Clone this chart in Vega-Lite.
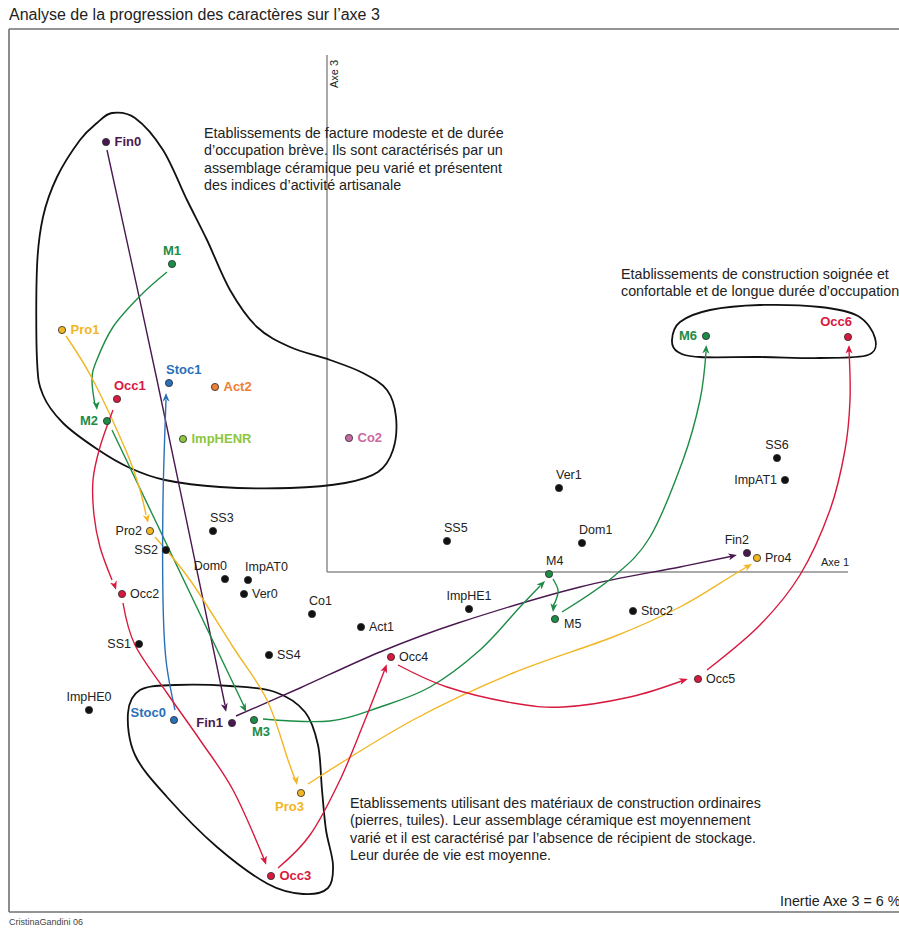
{
  "$schema": "https://vega.github.io/schema/vega-lite/v6.json",
  "width": 890,
  "height": 883,
  "autosize": {"type": "none"},
  "padding": {"left": 9, "top": 29, "right": 0, "bottom": 16},
  "background": "white",
  "config": {"font": "Liberation Sans", "view": {"stroke": null}},
  "title": {"text": "Analyse de la progression des caractères sur l’axe 3", "anchor": "start", "frame": "group", "fontSize": 16, "fontWeight": "normal", "color": "#222222", "offset": 5, "font": "Liberation Sans"},
  "datasets": {
    "pts": [
      {"name": "Fin0", "series": "Fin", "x": -2.21, "y": 4.30, "pos": "r", "emph": true},
      {"name": "M1", "series": "M", "x": -1.55, "y": 3.08, "pos": "a", "emph": true},
      {"name": "Pro1", "series": "Pro", "x": -2.65, "y": 2.42, "pos": "r", "emph": true},
      {"name": "Stoc1", "series": "Stoc", "x": -1.58, "y": 1.89, "pos": "ar", "emph": true},
      {"name": "Act2", "series": "Act", "x": -1.12, "y": 1.85, "pos": "r", "emph": true},
      {"name": "Occ1", "series": "Occ", "x": -2.10, "y": 1.73, "pos": "ar", "emph": true},
      {"name": "M2", "series": "M", "x": -2.20, "y": 1.51, "pos": "l", "emph": true},
      {"name": "ImpHENR", "series": "ImpHENR", "x": -1.44, "y": 1.33, "pos": "r", "emph": true},
      {"name": "Co2", "series": "Co", "x": 0.22, "y": 1.34, "pos": "r", "emph": true},
      {"name": "Pro2", "series": "Pro", "x": -1.77, "y": 0.41, "pos": "l", "emph": false},
      {"name": "SS3", "series": "base", "x": -1.14, "y": 0.41, "pos": "ar", "emph": false},
      {"name": "SS2", "series": "base", "x": -1.61, "y": 0.22, "pos": "l", "emph": false},
      {"name": "Dom0", "series": "base", "x": -1.02, "y": -0.07, "pos": "al", "emph": false},
      {"name": "ImpAT0", "series": "base", "x": -0.79, "y": -0.08, "pos": "ar", "emph": false},
      {"name": "Ver0", "series": "base", "x": -0.83, "y": -0.22, "pos": "r", "emph": false},
      {"name": "Occ2", "series": "Occ", "x": -2.05, "y": -0.22, "pos": "r", "emph": false},
      {"name": "Co1", "series": "base", "x": -0.15, "y": -0.42, "pos": "ar", "emph": false},
      {"name": "Act1", "series": "base", "x": 0.34, "y": -0.55, "pos": "r", "emph": false},
      {"name": "SS1", "series": "base", "x": -1.88, "y": -0.72, "pos": "l", "emph": false},
      {"name": "SS4", "series": "base", "x": -0.58, "y": -0.83, "pos": "r", "emph": false},
      {"name": "Occ4", "series": "Occ", "x": 0.64, "y": -0.85, "pos": "r", "emph": false},
      {"name": "ImpHE0", "series": "base", "x": -2.38, "y": -1.38, "pos": "a", "emph": false},
      {"name": "Stoc0", "series": "Stoc", "x": -1.53, "y": -1.48, "pos": "lu", "emph": true},
      {"name": "Fin1", "series": "Fin", "x": -0.95, "y": -1.51, "pos": "l", "emph": true},
      {"name": "M3", "series": "M", "x": -0.73, "y": -1.48, "pos": "br", "emph": true},
      {"name": "Pro3", "series": "Pro", "x": -0.26, "y": -2.21, "pos": "bl", "emph": true},
      {"name": "Occ3", "series": "Occ", "x": -0.56, "y": -3.04, "pos": "r", "emph": true},
      {"name": "M6", "series": "M", "x": 3.79, "y": 2.36, "pos": "l", "emph": true},
      {"name": "Occ6", "series": "Occ", "x": 5.21, "y": 2.35, "pos": "al", "emph": true},
      {"name": "SS6", "series": "base", "x": 4.50, "y": 1.14, "pos": "a", "emph": false},
      {"name": "ImpAT1", "series": "base", "x": 4.58, "y": 0.92, "pos": "l", "emph": false},
      {"name": "Ver1", "series": "base", "x": 2.32, "y": 0.84, "pos": "ar", "emph": false},
      {"name": "Dom1", "series": "base", "x": 2.55, "y": 0.29, "pos": "ar", "emph": false},
      {"name": "SS5", "series": "base", "x": 1.20, "y": 0.31, "pos": "ar", "emph": false},
      {"name": "Fin2", "series": "Fin", "x": 4.20, "y": 0.19, "pos": "al", "emph": false},
      {"name": "Pro4", "series": "Pro", "x": 4.30, "y": 0.14, "pos": "r", "emph": false},
      {"name": "M4", "series": "M", "x": 2.22, "y": -0.02, "pos": "ar", "emph": false},
      {"name": "M5", "series": "M", "x": 2.28, "y": -0.47, "pos": "rb", "emph": false},
      {"name": "Stoc2", "series": "base", "x": 3.06, "y": -0.39, "pos": "r", "emph": false},
      {"name": "ImpHE1", "series": "base", "x": 1.42, "y": -0.37, "pos": "a", "emph": false},
      {"name": "Occ5", "series": "Occ", "x": 3.71, "y": -1.07, "pos": "r", "emph": false}
    ],
    "paths": [
      {"seg": "F01", "series": "Fin", "ord": 1, "x": -2.20, "y": 4.22},
      {"seg": "F01", "series": "Fin", "ord": 2, "x": -1.70, "y": 1.92},
      {"seg": "F01", "series": "Fin", "ord": 3, "x": -1.02, "y": -1.33},
      {"seg": "F12", "series": "Fin", "ord": 1, "x": -0.91, "y": -1.44},
      {"seg": "F12", "series": "Fin", "ord": 2, "x": -0.27, "y": -1.16},
      {"seg": "F12", "series": "Fin", "ord": 3, "x": 0.53, "y": -0.80},
      {"seg": "F12", "series": "Fin", "ord": 4, "x": 1.31, "y": -0.51},
      {"seg": "F12", "series": "Fin", "ord": 5, "x": 2.53, "y": -0.15},
      {"seg": "F12", "series": "Fin", "ord": 6, "x": 3.53, "y": 0.05},
      {"seg": "F12", "series": "Fin", "ord": 7, "x": 4.06, "y": 0.16},
      {"seg": "M12", "series": "M", "ord": 1, "x": -1.60, "y": 3.00},
      {"seg": "M12", "series": "M", "ord": 2, "x": -1.87, "y": 2.76},
      {"seg": "M12", "series": "M", "ord": 3, "x": -2.14, "y": 2.45},
      {"seg": "M12", "series": "M", "ord": 4, "x": -2.31, "y": 2.10},
      {"seg": "M12", "series": "M", "ord": 5, "x": -2.35, "y": 1.92},
      {"seg": "M12", "series": "M", "ord": 6, "x": -2.32, "y": 1.67},
      {"seg": "M23", "series": "M", "ord": 1, "x": -2.15, "y": 1.42},
      {"seg": "M23", "series": "M", "ord": 2, "x": -0.83, "y": -1.34},
      {"seg": "M34", "series": "M", "ord": 1, "x": -0.64, "y": -1.47},
      {"seg": "M34", "series": "M", "ord": 2, "x": 0.03, "y": -1.49},
      {"seg": "M34", "series": "M", "ord": 3, "x": 0.53, "y": -1.35},
      {"seg": "M34", "series": "M", "ord": 4, "x": 1.03, "y": -1.15},
      {"seg": "M34", "series": "M", "ord": 5, "x": 1.53, "y": -0.78},
      {"seg": "M34", "series": "M", "ord": 6, "x": 1.93, "y": -0.35},
      {"seg": "M34", "series": "M", "ord": 7, "x": 2.13, "y": -0.14},
      {"seg": "M45", "series": "M", "ord": 1, "x": 2.26, "y": -0.07},
      {"seg": "M45", "series": "M", "ord": 2, "x": 2.31, "y": -0.18},
      {"seg": "M45", "series": "M", "ord": 3, "x": 2.29, "y": -0.28},
      {"seg": "M45", "series": "M", "ord": 4, "x": 2.26, "y": -0.34},
      {"seg": "M56", "series": "M", "ord": 1, "x": 2.35, "y": -0.40},
      {"seg": "M56", "series": "M", "ord": 2, "x": 2.86, "y": -0.05},
      {"seg": "M56", "series": "M", "ord": 3, "x": 3.23, "y": 0.35},
      {"seg": "M56", "series": "M", "ord": 4, "x": 3.56, "y": 1.12},
      {"seg": "M56", "series": "M", "ord": 5, "x": 3.73, "y": 1.72},
      {"seg": "M56", "series": "M", "ord": 6, "x": 3.79, "y": 2.20},
      {"seg": "P12", "series": "Pro", "ord": 1, "x": -2.61, "y": 2.36},
      {"seg": "P12", "series": "Pro", "ord": 2, "x": -2.34, "y": 1.92},
      {"seg": "P12", "series": "Pro", "ord": 3, "x": -2.00, "y": 1.19},
      {"seg": "P12", "series": "Pro", "ord": 4, "x": -1.87, "y": 0.82},
      {"seg": "P12", "series": "Pro", "ord": 5, "x": -1.81, "y": 0.57},
      {"seg": "P23", "series": "Pro", "ord": 1, "x": -1.72, "y": 0.35},
      {"seg": "P23", "series": "Pro", "ord": 2, "x": -1.37, "y": -0.08},
      {"seg": "P23", "series": "Pro", "ord": 3, "x": -0.94, "y": -0.75},
      {"seg": "P23", "series": "Pro", "ord": 4, "x": -0.60, "y": -1.28},
      {"seg": "P23", "series": "Pro", "ord": 5, "x": -0.39, "y": -1.88},
      {"seg": "P23", "series": "Pro", "ord": 6, "x": -0.32, "y": -2.07},
      {"seg": "P34", "series": "Pro", "ord": 1, "x": -0.19, "y": -2.12},
      {"seg": "P34", "series": "Pro", "ord": 2, "x": 0.86, "y": -1.48},
      {"seg": "P34", "series": "Pro", "ord": 3, "x": 1.86, "y": -1.01},
      {"seg": "P34", "series": "Pro", "ord": 4, "x": 2.86, "y": -0.65},
      {"seg": "P34", "series": "Pro", "ord": 5, "x": 3.53, "y": -0.35},
      {"seg": "P34", "series": "Pro", "ord": 6, "x": 4.03, "y": -0.05},
      {"seg": "P34", "series": "Pro", "ord": 7, "x": 4.21, "y": 0.06},
      {"seg": "S01", "series": "Stoc", "ord": 1, "x": -1.52, "y": -1.38},
      {"seg": "S01", "series": "Stoc", "ord": 2, "x": -1.61, "y": -0.88},
      {"seg": "S01", "series": "Stoc", "ord": 3, "x": -1.64, "y": -0.28},
      {"seg": "S01", "series": "Stoc", "ord": 4, "x": -1.64, "y": 0.72},
      {"seg": "S01", "series": "Stoc", "ord": 5, "x": -1.61, "y": 1.72},
      {"seg": "O12", "series": "Occ", "ord": 1, "x": -2.14, "y": 1.62},
      {"seg": "O12", "series": "Occ", "ord": 2, "x": -2.27, "y": 1.25},
      {"seg": "O12", "series": "Occ", "ord": 3, "x": -2.34, "y": 0.92},
      {"seg": "O12", "series": "Occ", "ord": 4, "x": -2.33, "y": 0.57},
      {"seg": "O12", "series": "Occ", "ord": 5, "x": -2.27, "y": 0.25},
      {"seg": "O12", "series": "Occ", "ord": 6, "x": -2.15, "y": -0.08},
      {"seg": "O23", "series": "Occ", "ord": 1, "x": -2.04, "y": -0.31},
      {"seg": "O23", "series": "Occ", "ord": 2, "x": -1.92, "y": -0.73},
      {"seg": "O23", "series": "Occ", "ord": 3, "x": -1.60, "y": -1.21},
      {"seg": "O23", "series": "Occ", "ord": 4, "x": -1.27, "y": -1.68},
      {"seg": "O23", "series": "Occ", "ord": 5, "x": -0.94, "y": -2.18},
      {"seg": "O23", "series": "Occ", "ord": 6, "x": -0.63, "y": -2.87},
      {"seg": "O34", "series": "Occ", "ord": 1, "x": -0.49, "y": -2.96},
      {"seg": "O34", "series": "Occ", "ord": 2, "x": -0.17, "y": -2.63},
      {"seg": "O34", "series": "Occ", "ord": 3, "x": 0.13, "y": -2.08},
      {"seg": "O34", "series": "Occ", "ord": 4, "x": 0.38, "y": -1.48},
      {"seg": "O34", "series": "Occ", "ord": 5, "x": 0.58, "y": -0.97},
      {"seg": "O45", "series": "Occ", "ord": 1, "x": 0.71, "y": -0.93},
      {"seg": "O45", "series": "Occ", "ord": 2, "x": 1.20, "y": -1.15},
      {"seg": "O45", "series": "Occ", "ord": 3, "x": 1.86, "y": -1.31},
      {"seg": "O45", "series": "Occ", "ord": 4, "x": 2.36, "y": -1.35},
      {"seg": "O45", "series": "Occ", "ord": 5, "x": 3.03, "y": -1.25},
      {"seg": "O45", "series": "Occ", "ord": 6, "x": 3.56, "y": -1.085},
      {"seg": "O56", "series": "Occ", "ord": 1, "x": 3.80, "y": -0.98},
      {"seg": "O56", "series": "Occ", "ord": 2, "x": 4.33, "y": -0.53},
      {"seg": "O56", "series": "Occ", "ord": 3, "x": 4.73, "y": -0.03},
      {"seg": "O56", "series": "Occ", "ord": 4, "x": 5.03, "y": 0.62},
      {"seg": "O56", "series": "Occ", "ord": 5, "x": 5.18, "y": 1.22},
      {"seg": "O56", "series": "Occ", "ord": 6, "x": 5.23, "y": 1.72},
      {"seg": "O56", "series": "Occ", "ord": 7, "x": 5.22, "y": 2.22}
    ],
    "heads": [
      {"seg": "F01", "series": "Fin", "x": -1.02, "y": -1.35, "angle": 167},
      {"seg": "F12", "series": "Fin", "x": 4.05, "y": 0.16, "angle": 77},
      {"seg": "M12", "series": "M", "x": -2.305, "y": 1.67, "angle": 175},
      {"seg": "M23", "series": "M", "x": -0.83, "y": -1.355, "angle": 154},
      {"seg": "M34", "series": "M", "x": 2.145, "y": -0.125, "angle": 45},
      {"seg": "M45", "series": "M", "x": 2.265, "y": -0.35, "angle": 186},
      {"seg": "M56", "series": "M", "x": 3.79, "y": 2.22, "angle": 3},
      {"seg": "P12", "series": "Pro", "x": -1.80, "y": 0.54, "angle": 167},
      {"seg": "P23", "series": "Pro", "x": -0.31, "y": -2.08, "angle": 168},
      {"seg": "P34", "series": "Pro", "x": 4.207, "y": 0.055, "angle": 59},
      {"seg": "S01", "series": "Stoc", "x": -1.61, "y": 1.74, "angle": 0},
      {"seg": "O12", "series": "Occ", "x": -2.125, "y": -0.13, "angle": 162},
      {"seg": "O23", "series": "Occ", "x": -0.625, "y": -2.88, "angle": 162},
      {"seg": "O34", "series": "Occ", "x": 0.58, "y": -0.97, "angle": 21},
      {"seg": "O45", "series": "Occ", "x": 3.56, "y": -1.085, "angle": 73},
      {"seg": "O56", "series": "Occ", "x": 5.22, "y": 2.22, "angle": 0}
    ],
    "hulls": [
      {"id": "h1", "ord": 1, "x": -2.15, "y": 4.59},
      {"id": "h1", "ord": 2, "x": -1.92, "y": 4.54},
      {"id": "h1", "ord": 3, "x": -1.64, "y": 4.22},
      {"id": "h1", "ord": 4, "x": -1.40, "y": 3.72},
      {"id": "h1", "ord": 5, "x": -1.20, "y": 3.32},
      {"id": "h1", "ord": 6, "x": -0.97, "y": 2.82},
      {"id": "h1", "ord": 7, "x": -0.70, "y": 2.45},
      {"id": "h1", "ord": 8, "x": -0.37, "y": 2.25},
      {"id": "h1", "ord": 9, "x": 0.03, "y": 2.12},
      {"id": "h1", "ord": 10, "x": 0.36, "y": 1.99},
      {"id": "h1", "ord": 11, "x": 0.60, "y": 1.82},
      {"id": "h1", "ord": 12, "x": 0.69, "y": 1.55},
      {"id": "h1", "ord": 13, "x": 0.66, "y": 1.22},
      {"id": "h1", "ord": 14, "x": 0.51, "y": 1.00},
      {"id": "h1", "ord": 15, "x": 0.18, "y": 0.89},
      {"id": "h1", "ord": 16, "x": -0.37, "y": 0.84},
      {"id": "h1", "ord": 17, "x": -1.07, "y": 0.85},
      {"id": "h1", "ord": 18, "x": -1.62, "y": 0.92},
      {"id": "h1", "ord": 19, "x": -1.97, "y": 1.04},
      {"id": "h1", "ord": 20, "x": -2.30, "y": 1.23},
      {"id": "h1", "ord": 21, "x": -2.64, "y": 1.49},
      {"id": "h1", "ord": 22, "x": -2.84, "y": 1.77},
      {"id": "h1", "ord": 23, "x": -2.90, "y": 2.12},
      {"id": "h1", "ord": 24, "x": -2.90, "y": 3.05},
      {"id": "h1", "ord": 25, "x": -2.84, "y": 3.55},
      {"id": "h1", "ord": 26, "x": -2.70, "y": 3.95},
      {"id": "h1", "ord": 27, "x": -2.47, "y": 4.32},
      {"id": "h1", "ord": 28, "x": -2.30, "y": 4.49},
      {"id": "h2", "ord": 1, "x": 3.45, "y": 2.32},
      {"id": "h2", "ord": 2, "x": 3.53, "y": 2.50},
      {"id": "h2", "ord": 3, "x": 3.83, "y": 2.62},
      {"id": "h2", "ord": 4, "x": 4.33, "y": 2.67},
      {"id": "h2", "ord": 5, "x": 4.93, "y": 2.65},
      {"id": "h2", "ord": 6, "x": 5.31, "y": 2.56},
      {"id": "h2", "ord": 7, "x": 5.48, "y": 2.34},
      {"id": "h2", "ord": 8, "x": 5.41, "y": 2.17},
      {"id": "h2", "ord": 9, "x": 4.93, "y": 2.14},
      {"id": "h2", "ord": 10, "x": 4.33, "y": 2.15},
      {"id": "h2", "ord": 11, "x": 3.73, "y": 2.15},
      {"id": "h2", "ord": 12, "x": 3.51, "y": 2.20},
      {"id": "h3", "ord": 1, "x": -1.99, "y": -1.41},
      {"id": "h3", "ord": 2, "x": -1.87, "y": -1.18},
      {"id": "h3", "ord": 3, "x": -1.52, "y": -1.13},
      {"id": "h3", "ord": 4, "x": -0.97, "y": -1.14},
      {"id": "h3", "ord": 5, "x": -0.52, "y": -1.20},
      {"id": "h3", "ord": 6, "x": -0.22, "y": -1.40},
      {"id": "h3", "ord": 7, "x": -0.09, "y": -1.73},
      {"id": "h3", "ord": 8, "x": -0.05, "y": -2.18},
      {"id": "h3", "ord": 9, "x": -0.01, "y": -2.58},
      {"id": "h3", "ord": 10, "x": 0.06, "y": -2.93},
      {"id": "h3", "ord": 11, "x": 0.01, "y": -3.16},
      {"id": "h3", "ord": 12, "x": -0.24, "y": -3.22},
      {"id": "h3", "ord": 13, "x": -0.59, "y": -3.12},
      {"id": "h3", "ord": 14, "x": -1.10, "y": -2.75},
      {"id": "h3", "ord": 15, "x": -1.60, "y": -2.25},
      {"id": "h3", "ord": 16, "x": -1.92, "y": -1.83}
    ]
  },
  "layer": [
    {
      "data": {"values": [{"y": 5.43}, {"y": -3.40}]},
      "mark": {"type": "rule", "color": "#707070", "strokeWidth": 1.6},
      "encoding": {"y": {"field": "y", "type": "quantitative", "scale": {"domain": [-3.40, 5.43], "nice": false, "zero": false}, "axis": null}}
    },
    {
      "data": {"values": [{"x": -3.18}]},
      "mark": {"type": "rule", "color": "#707070", "strokeWidth": 1.6},
      "encoding": {"x": {"field": "x", "type": "quantitative", "scale": {"domain": [-3.18, 5.72], "nice": false, "zero": false}, "axis": null}}
    },
    {
      "data": {"values": [{"x": 0, "y": 0, "x2": 0, "y2": 5.17}, {"x": 0, "y": 0, "x2": 5.21, "y2": 0}]},
      "mark": {"type": "rule", "color": "#8c8c8c", "strokeWidth": 1.5},
      "encoding": {
        "x": {"field": "x", "type": "quantitative", "scale": {"domain": [-3.18, 5.72], "nice": false, "zero": false}, "axis": null},
        "y": {"field": "y", "type": "quantitative", "scale": {"domain": [-3.40, 5.43], "nice": false, "zero": false}, "axis": null},
        "x2": {"field": "x2"},
        "y2": {"field": "y2"}
      }
    },
    {
      "data": {"name": "hulls"},
      "mark": {"type": "line", "interpolate": "cardinal-closed", "color": "#111111", "strokeWidth": 1.8},
      "encoding": {
        "x": {"field": "x", "type": "quantitative", "scale": {"domain": [-3.18, 5.72], "nice": false, "zero": false}, "axis": null},
        "y": {"field": "y", "type": "quantitative", "scale": {"domain": [-3.40, 5.43], "nice": false, "zero": false}, "axis": null},
        "detail": {"field": "id", "type": "nominal"},
        "order": {"field": "ord", "type": "quantitative"}
      }
    },
    {
      "data": {"name": "paths"},
      "mark": {"type": "line", "interpolate": "cardinal", "strokeWidth": 1.4},
      "encoding": {
        "x": {"field": "x", "type": "quantitative", "scale": {"domain": [-3.18, 5.72], "nice": false, "zero": false}, "axis": null},
        "y": {"field": "y", "type": "quantitative", "scale": {"domain": [-3.40, 5.43], "nice": false, "zero": false}, "axis": null},
        "detail": {"field": "seg", "type": "nominal"},
        "order": {"field": "ord", "type": "quantitative"},
        "color": {"field": "series", "type": "nominal", "legend": null, "scale": {"domain": ["Fin", "M", "Pro", "Stoc", "Occ", "Act", "ImpHENR", "Co", "base"], "range": ["#4a1850", "#1d8c45", "#f2b623", "#2a70b8", "#d8193d", "#ee7d35", "#8cc63f", "#c96aa3", "#111111"]}}
      }
    },
    {
      "data": {"name": "heads"},
      "mark": {"type": "point", "filled": true, "opacity": 1, "size": 100, "shape": "M0,-1L0.7,0.7L0,0.25L-0.7,0.7Z"},
      "encoding": {
        "x": {"field": "x", "type": "quantitative", "scale": {"domain": [-3.18, 5.72], "nice": false, "zero": false}, "axis": null},
        "y": {"field": "y", "type": "quantitative", "scale": {"domain": [-3.40, 5.43], "nice": false, "zero": false}, "axis": null},
        "angle": {"field": "angle", "type": "quantitative", "scale": null},
        "color": {"field": "series", "type": "nominal", "legend": null}
      }
    },
    {
      "data": {"name": "pts"},
      "mark": {"type": "circle", "size": 52, "opacity": 1, "stroke": "#2a2a2a", "strokeWidth": 0.8},
      "encoding": {
        "x": {"field": "x", "type": "quantitative", "scale": {"domain": [-3.18, 5.72], "nice": false, "zero": false}, "axis": null},
        "y": {"field": "y", "type": "quantitative", "scale": {"domain": [-3.40, 5.43], "nice": false, "zero": false}, "axis": null},
        "color": {"field": "series", "type": "nominal", "legend": null}
      }
    },
    {"data": {"name": "pts"}, "transform": [{"filter": "datum.emph && datum.pos == 'r'"}], "mark": {"type": "text", "align": "left", "baseline": "middle", "dx": 8.5, "dy": 0, "fontSize": 13, "fontWeight": "bold"}, "encoding": {"x": {"field": "x", "type": "quantitative"}, "y": {"field": "y", "type": "quantitative"}, "text": {"field": "name"}, "color": {"field": "series", "type": "nominal", "legend": null}}},
    {"data": {"name": "pts"}, "transform": [{"filter": "datum.emph && datum.pos == 'a'"}], "mark": {"type": "text", "align": "center", "baseline": "middle", "dx": 0, "dy": -13, "fontSize": 13, "fontWeight": "bold"}, "encoding": {"x": {"field": "x", "type": "quantitative"}, "y": {"field": "y", "type": "quantitative"}, "text": {"field": "name"}, "color": {"field": "series", "type": "nominal", "legend": null}}},
    {"data": {"name": "pts"}, "transform": [{"filter": "datum.emph && datum.pos == 'ar'"}], "mark": {"type": "text", "align": "left", "baseline": "middle", "dx": -3, "dy": -13, "fontSize": 13, "fontWeight": "bold"}, "encoding": {"x": {"field": "x", "type": "quantitative"}, "y": {"field": "y", "type": "quantitative"}, "text": {"field": "name"}, "color": {"field": "series", "type": "nominal", "legend": null}}},
    {"data": {"name": "pts"}, "transform": [{"filter": "datum.emph && datum.pos == 'l'"}], "mark": {"type": "text", "align": "right", "baseline": "middle", "dx": -9, "dy": 0, "fontSize": 13, "fontWeight": "bold"}, "encoding": {"x": {"field": "x", "type": "quantitative"}, "y": {"field": "y", "type": "quantitative"}, "text": {"field": "name"}, "color": {"field": "series", "type": "nominal", "legend": null}}},
    {"data": {"name": "pts"}, "transform": [{"filter": "datum.emph && datum.pos == 'lu'"}], "mark": {"type": "text", "align": "right", "baseline": "middle", "dx": -8, "dy": -7, "fontSize": 13, "fontWeight": "bold"}, "encoding": {"x": {"field": "x", "type": "quantitative"}, "y": {"field": "y", "type": "quantitative"}, "text": {"field": "name"}, "color": {"field": "series", "type": "nominal", "legend": null}}},
    {"data": {"name": "pts"}, "transform": [{"filter": "datum.emph && datum.pos == 'br'"}], "mark": {"type": "text", "align": "left", "baseline": "middle", "dx": -2, "dy": 12, "fontSize": 13, "fontWeight": "bold"}, "encoding": {"x": {"field": "x", "type": "quantitative"}, "y": {"field": "y", "type": "quantitative"}, "text": {"field": "name"}, "color": {"field": "series", "type": "nominal", "legend": null}}},
    {"data": {"name": "pts"}, "transform": [{"filter": "datum.emph && datum.pos == 'bl'"}], "mark": {"type": "text", "align": "right", "baseline": "middle", "dx": 3, "dy": 14, "fontSize": 13, "fontWeight": "bold"}, "encoding": {"x": {"field": "x", "type": "quantitative"}, "y": {"field": "y", "type": "quantitative"}, "text": {"field": "name"}, "color": {"field": "series", "type": "nominal", "legend": null}}},
    {"data": {"name": "pts"}, "transform": [{"filter": "datum.emph && datum.pos == 'al'"}], "mark": {"type": "text", "align": "right", "baseline": "middle", "dx": 4, "dy": -15, "fontSize": 13, "fontWeight": "bold"}, "encoding": {"x": {"field": "x", "type": "quantitative"}, "y": {"field": "y", "type": "quantitative"}, "text": {"field": "name"}, "color": {"field": "series", "type": "nominal", "legend": null}}},
    {"data": {"name": "pts"}, "transform": [{"filter": "!datum.emph && datum.pos == 'r'"}], "mark": {"type": "text", "align": "left", "baseline": "middle", "dx": 8, "dy": 0, "fontSize": 12.5, "color": "#222222"}, "encoding": {"x": {"field": "x", "type": "quantitative"}, "y": {"field": "y", "type": "quantitative"}, "text": {"field": "name"}}},
    {"data": {"name": "pts"}, "transform": [{"filter": "!datum.emph && datum.pos == 'l'"}], "mark": {"type": "text", "align": "right", "baseline": "middle", "dx": -8, "dy": 0, "fontSize": 12.5, "color": "#222222"}, "encoding": {"x": {"field": "x", "type": "quantitative"}, "y": {"field": "y", "type": "quantitative"}, "text": {"field": "name"}}},
    {"data": {"name": "pts"}, "transform": [{"filter": "!datum.emph && datum.pos == 'a'"}], "mark": {"type": "text", "align": "center", "baseline": "middle", "dx": 0, "dy": -13, "fontSize": 12.5, "color": "#222222"}, "encoding": {"x": {"field": "x", "type": "quantitative"}, "y": {"field": "y", "type": "quantitative"}, "text": {"field": "name"}}},
    {"data": {"name": "pts"}, "transform": [{"filter": "!datum.emph && datum.pos == 'ar'"}], "mark": {"type": "text", "align": "left", "baseline": "middle", "dx": -3, "dy": -13, "fontSize": 12.5, "color": "#222222"}, "encoding": {"x": {"field": "x", "type": "quantitative"}, "y": {"field": "y", "type": "quantitative"}, "text": {"field": "name"}}},
    {"data": {"name": "pts"}, "transform": [{"filter": "!datum.emph && datum.pos == 'al'"}], "mark": {"type": "text", "align": "right", "baseline": "middle", "dx": 2, "dy": -13, "fontSize": 12.5, "color": "#222222"}, "encoding": {"x": {"field": "x", "type": "quantitative"}, "y": {"field": "y", "type": "quantitative"}, "text": {"field": "name"}}},
    {"data": {"name": "pts"}, "transform": [{"filter": "!datum.emph && datum.pos == 'rb'"}], "mark": {"type": "text", "align": "left", "baseline": "middle", "dx": 9, "dy": 5, "fontSize": 12.5, "color": "#222222"}, "encoding": {"x": {"field": "x", "type": "quantitative"}, "y": {"field": "y", "type": "quantitative"}, "text": {"field": "name"}}},
    {
      "data": {"values": [
        {"t": "Etablissements de facture modeste et de durée\nd’occupation brève. Ils sont caractérisés par un\nassemblage céramique peu varié et présentent\ndes indices d’activité artisanale", "x": -1.23, "y": 4.345},
        {"t": "Etablissements de construction soignée et\nconfortable et de longue durée d’occupation", "x": 2.94, "y": 2.935},
        {"t": "Etablissements utilisant des matériaux de construction ordinaires\n(pierres, tuiles). Leur assemblage céramique est moyennement\nvarié et il est caractérisé par l’absence de récipient de stockage.\nLeur durée de vie est moyenne.", "x": 0.23, "y": -2.355},
        {"t": "Inertie Axe 3 = 6 %", "x": 4.53, "y": -3.335}
      ]},
      "mark": {"type": "text", "align": "left", "baseline": "alphabetic", "fontSize": 14.3, "lineHeight": 17.5, "lineBreak": "\n", "color": "#222222"},
      "encoding": {"x": {"field": "x", "type": "quantitative"}, "y": {"field": "y", "type": "quantitative"}, "text": {"field": "t"}}
    },
    {
      "data": {"values": [{"t": "CristinaGandini 06", "x": -3.18, "y": -3.53}]},
      "mark": {"type": "text", "align": "left", "baseline": "alphabetic", "fontSize": 9, "color": "#444444"},
      "encoding": {"x": {"field": "x", "type": "quantitative"}, "y": {"field": "y", "type": "quantitative"}, "text": {"field": "t"}}
    },
    {
      "data": {"values": [{"t": "Axe 1", "x": 5.08, "y": 0.09}]},
      "mark": {"type": "text", "align": "center", "baseline": "middle", "fontSize": 11, "color": "#222222"},
      "encoding": {"x": {"field": "x", "type": "quantitative"}, "y": {"field": "y", "type": "quantitative"}, "text": {"field": "t"}}
    },
    {
      "data": {"values": [{"t": "Axe 3", "x": 0.08, "y": 4.98}]},
      "mark": {"type": "text", "align": "center", "baseline": "middle", "fontSize": 11, "angle": 270, "color": "#222222"},
      "encoding": {"x": {"field": "x", "type": "quantitative"}, "y": {"field": "y", "type": "quantitative"}, "text": {"field": "t"}}
    }
  ]
}
